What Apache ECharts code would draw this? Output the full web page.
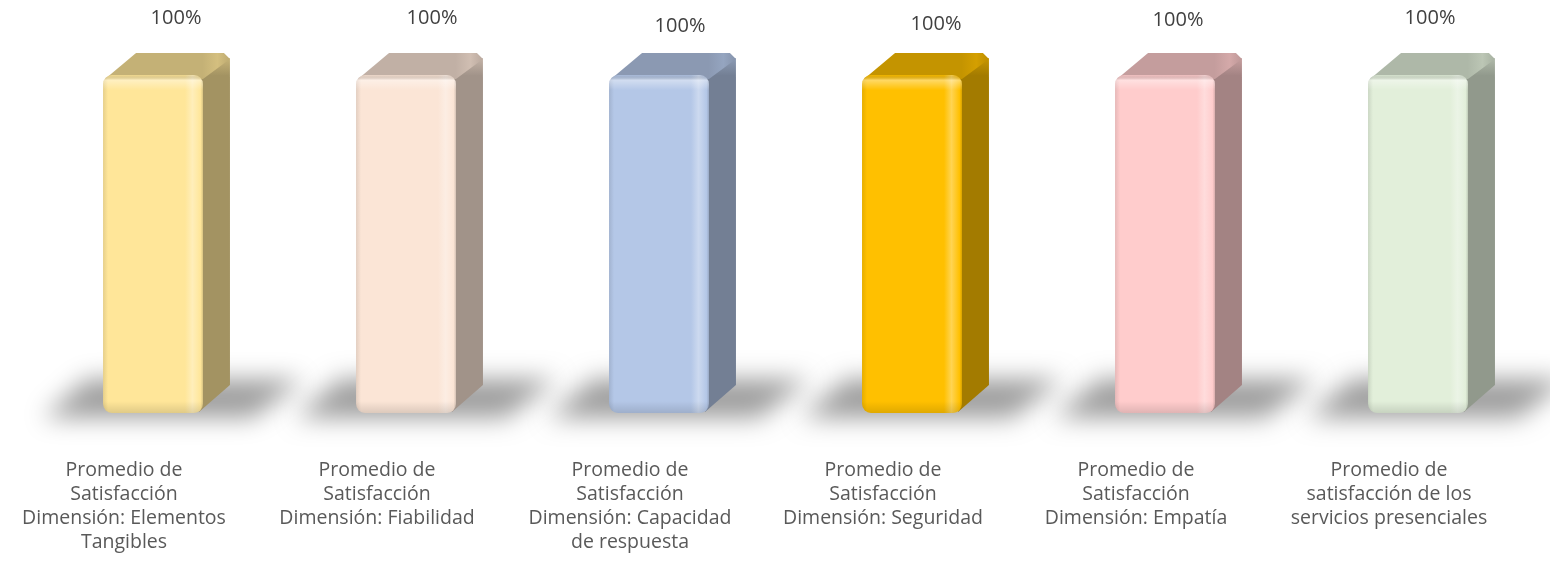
<!DOCTYPE html>
<html>
<head>
<meta charset="utf-8">
<script src="https://cdn.jsdelivr.net/npm/echarts@6/dist/echarts.min.js"></script>
<style>
  html, body { margin: 0; padding: 0; background: #ffffff; }
  #chart { width: 1550px; height: 572px; }
</style>
</head>
<body>
<div id="chart"></div>
<script>
// Category names, broken into the lines they are printed on
const categories = [
  'Promedio de\nSatisfacción\nDimensión: Elementos\nTangibles',
  'Promedio de\nSatisfacción\nDimensión: Fiabilidad',
  'Promedio de\nSatisfacción\nDimensión: Capacidad\nde respuesta',
  'Promedio de\nSatisfacción\nDimensión: Seguridad',
  'Promedio de\nSatisfacción\nDimensión: Empatía',
  'Promedio de\nsatisfacción de los\nservicios presenciales'
];

// Satisfaction, in percent
const satisfaction = [100, 100, 100, 100, 100, 100];

// Front-face colour of each column
const barColors = ['#FFE699', '#FBE5D6', '#B4C7E7', '#FFC000', '#FFCCCC', '#E2EFDA'];

// Per-column nudge of the value label (x, y) from the top of the front face
const labelNudge = [[23, -57], [26, -57], [21, -49], [24, -51], [13, -55], [12, -57]];

function hexToRgb(hex) {
  const n = parseInt(hex.slice(1), 16);
  return [(n >> 16) & 255, (n >> 8) & 255, n & 255];
}
function mix(hex, other, t) {
  const a = hexToRgb(hex), b = hexToRgb(other);
  const c = a.map((v, k) => Math.round(v + (b[k] - v) * t));
  return 'rgb(' + c.join(',') + ')';
}
function linear(x2, y2, stops) {
  return { type: 'linear', x: 0, y: 0, x2: x2, y2: y2,
    colorStops: stops.map(s => ({ offset: s[0], color: s[1] })) };
}

const DEPTH_X = 27, DEPTH_Y = 22, FAR = 4000;

function renderColumn(params, api) {
  const i = params.dataIndex;
  const topPt = api.coord([api.value(0), api.value(1)]);
  const basePt = api.coord([api.value(0), 0]);
  const w = api.size([1, 0])[0] * 0.395;
  const xc = topPt[0];
  const x0 = xc - w / 2, x1 = xc + w / 2;
  const yt = topPt[1], yb = basePt[1];
  const base = barColors[i % barColors.length];
  const sideCol = mix(base, '#000000', 0.36);
  const topCol = mix(base, '#000000', 0.23);

  // soft floor shadow: shape drawn far away, only its blurred shadow lands here
  const shadowPts = [
    [xc - 110 + FAR, yb + 5], [xc + 100 + FAR, yb + 5],
    [xc + 150 + FAR, yb - 34], [xc - 66 + FAR, yb - 34]
  ];

  const children = [
    {
      type: 'polygon',
      shape: { points: shadowPts },
      style: { fill: '#000', shadowBlur: 24, shadowColor: 'rgba(0,0,0,0.38)',
               shadowOffsetX: -FAR, shadowOffsetY: 0 },
      silent: true
    },
    {
      type: 'polygon',
      shape: { points: [[x1 - 4, yt + 2], [x1 + DEPTH_X, yt - DEPTH_Y + 5],
                        [x1 + DEPTH_X, yb - DEPTH_Y - 6], [x1 - 4, yb - 1]] },
      style: { fill: linear(0, 1, [[0, mix(base, '#000000', 0.22)], [0.05, sideCol], [1, sideCol]]) }
    },
    {
      type: 'polygon',
      shape: { points: [[x0 + 2, yt + 4], [x0 + DEPTH_X + 6, yt - DEPTH_Y],
                        [x1 + DEPTH_X - 6, yt - DEPTH_Y], [x1 + DEPTH_X, yt - DEPTH_Y + 6], [x1, yt + 4]] },
      style: { fill: linear(1, 0, [[0, topCol], [0.78, topCol], [0.9, mix(base, '#000000', 0.17)], [1, mix(base, '#000000', 0.26)]]) }
    },
    {
      type: 'rect',
      shape: { x: x0, y: yt, width: w, height: yb - yt, r: 9 },
      style: { fill: linear(1, 0, [
        [0, mix(base, '#000000', 0.1)], [0.05, base], [0.82, base],
        [0.895, mix(base, '#ffffff', 0.32)], [0.94, mix(base, '#ffffff', 0.15)],
        [0.975, base], [1, mix(base, '#000000', 0.14)]
      ]) }
    },
    {
      type: 'rect',
      shape: { x: x0, y: yt, width: w, height: yb - yt, r: 9 },
      style: { fill: linear(0, 1, [
        [0, 'rgba(0,0,0,0.05)'], [0.015, 'rgba(255,255,255,0.4)'], [0.045, 'rgba(255,255,255,0)'],
        [0.965, 'rgba(0,0,0,0)'], [1, 'rgba(0,0,0,0.12)']
      ]) },
      silent: true
    },
    {
      type: 'text',
      x: xc + labelNudge[i][0],
      y: yt + labelNudge[i][1],
      style: {
        text: api.value(1) + '%',
        fill: '#404040',
        fontSize: 20,
        fontFamily: '"Open Sans", sans-serif',
        align: 'center',
        verticalAlign: 'middle'
      }
    }
  ];
  return { type: 'group', children: children };
}

const chart = echarts.init(document.getElementById('chart'), null, { renderer: 'canvas' });
chart.setOption({
  backgroundColor: '#ffffff',
  animation: false,
  grid: { left: 26.5, right: 5.5, top: 75, bottom: 159 },
  xAxis: {
    type: 'category',
    data: categories,
    axisLine: { show: false },
    axisTick: { show: false },
    axisLabel: {
      interval: 0,
      color: '#595959',
      fontSize: 19.5,
      lineHeight: 24,
      fontFamily: '"Open Sans", sans-serif',
      margin: 45,
      padding: [0, 58, 0, 0]
    }
  },
  yAxis: { type: 'value', min: 0, max: 100, show: false },
  series: [{
    type: 'custom',
    clip: false,
    renderItem: renderColumn,
    encode: { x: 0, y: 1 },
    data: satisfaction.map((v, k) => [k, v])
  }]
});
</script>
</body>
</html>
